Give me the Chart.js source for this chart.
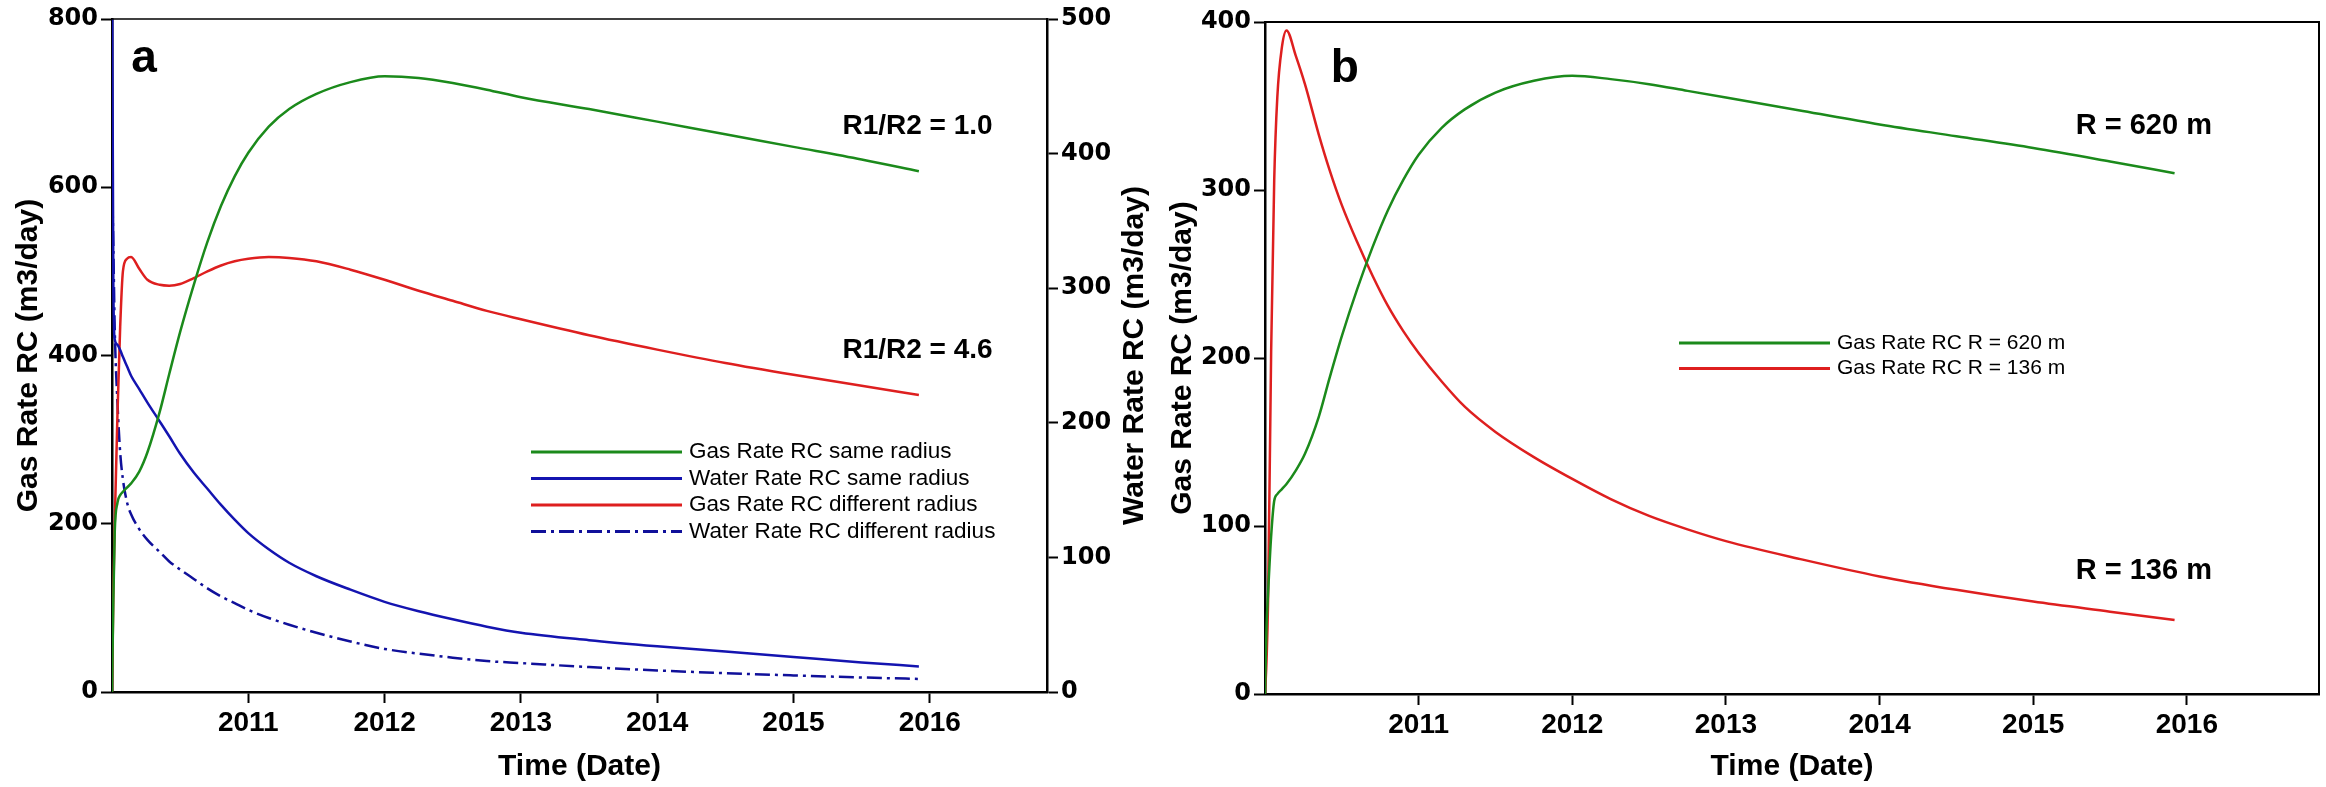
<!DOCTYPE html>
<html>
<head>
<meta charset="utf-8">
<script src="https://cdn.jsdelivr.net/npm/chart.js@4.4.1/dist/chart.umd.min.js"></script>
<style>
  html, body { margin: 0; padding: 0; background: #fff; }
  #wrap { position: relative; width: 2326px; height: 787px; overflow: hidden; background: #fff; }
  .panel { position: absolute; top: 0; height: 787px; }
  #pa { left: 0; width: 1160px; }
  #pb { left: 1160px; width: 1166px; }
</style>
</head>
<body>
<div id="wrap">
  <div class="panel" id="pa"><canvas id="chartA"></canvas></div>
  <div class="panel" id="pb"><canvas id="chartB"></canvas></div>
</div>
<script>
// ---- data (time in decimal years) ----
const yearTicks = [2011, 2012, 2013, 2014, 2015, 2016];

// panel a
const timeA = [2010.0, 2010.01, 2010.02, 2010.04, 2010.06, 2010.08, 2010.11, 2010.14, 2010.2, 2010.26,
  2010.35, 2010.42, 2010.5, 2010.6, 2010.7, 2010.8, 2010.9, 2011.0, 2011.15, 2011.3,
  2011.5, 2011.75, 2012.0, 2012.25, 2012.5, 2012.75, 2013.0, 2013.5, 2014.0, 2014.5,
  2015.0, 2015.5, 2015.92];
const gasSameA = [0, 110, 190, 225, 234, 238, 243, 248, 262, 285,
  333, 378, 428, 484, 535, 578, 613, 641, 672, 693,
  711, 725, 732, 730, 724, 716, 707, 693, 678, 663,
  648, 633, 619];
const waterSameA = [560, 300, 262, 258, 254, 249, 242, 235, 225, 215,
  201, 190, 177, 163, 151, 139, 128, 118, 106, 96,
  86, 76, 67, 60, 54, 48.5, 44, 38.5, 34, 30,
  26, 22, 19];
const gasDiffA = [0, 120, 200, 330, 434, 500, 515, 517, 503, 490,
  484, 483, 485, 492, 500, 507, 512, 515, 517, 516,
  512, 502, 490, 477, 465, 453, 443, 424, 407, 391,
  377, 364, 353];
const waterDiffA = [384, 330, 270, 215, 178, 158, 141, 132, 121, 113,
  104, 97, 91, 84, 77, 71, 66, 61, 55, 50,
  44, 37.5, 32, 28.5, 25.5, 23, 21.5, 18.5, 16, 14,
  12.3, 10.8, 9.7];

// panel b
const timeB = timeA;
const gasR620 = [0, 40, 60, 94, 115, 119, 122, 125, 133, 143,
  165, 188, 213, 241, 266, 288, 306, 321, 337, 348,
  358, 365, 368, 366, 363, 359, 355, 347, 339, 332,
  325, 317, 310];
const gasR136 = [0, 20, 55, 204, 306, 355, 385, 395, 380, 363,
  333, 312, 291, 269, 249, 231, 216, 203, 186, 171,
  156, 141, 128, 116, 106, 98, 91, 80, 70, 62,
  55, 49, 44];

const GREEN = "#1b8a1b";
const BLUE = "#1414b0";
const NAVY = "#10109a";
const RED = "#de1f1f";

const tickFontY = { family: "'DejaVu Sans'", size: 24, weight: "bold" };
const tickFontX = { family: "'Liberation Sans', Arial", size: 28, weight: "bold" };
const titleFont = { family: "'Liberation Sans', Arial", size: 30, weight: "bold" };

function pts(xs, ys) {
  return xs.map((x, i) => ({ x, y: ys[i] }));
}

function line(label, xs, ys, color, axis, dash) {
  return {
    label,
    data: pts(xs, ys),
    borderColor: color,
    backgroundColor: color,
    borderWidth: 2.5,
    borderDash: dash || [],
    pointRadius: 0,
    cubicInterpolationMode: "monotone",
    fill: false,
    yAxisID: axis,
  };
}

// legend drawn inside the plot, from the datasets
const lineKey = {
  id: "lineKey",
  afterDatasetsDraw(chart, args, o) {
    const ctx = chart.ctx;
    ctx.save();
    ctx.font = o.font;
    ctx.textBaseline = "middle";
    ctx.textAlign = "left";
    chart.data.datasets.forEach((ds, i) => {
      const y = o.top + i * o.rowGap;
      ctx.strokeStyle = ds.borderColor;
      ctx.lineWidth = 3;
      ctx.setLineDash(ds.borderDash || []);
      ctx.beginPath();
      ctx.moveTo(o.left, y);
      ctx.lineTo(o.left + o.lineLen, y);
      ctx.stroke();
      ctx.setLineDash([]);
      ctx.fillStyle = "#000";
      ctx.fillText(ds.label, o.left + o.lineLen + o.gap, y);
    });
    ctx.restore();
  },
};

// frame lines, text notes, rotated right title
const notes = {
  id: "notes",
  afterDraw(chart, args, o) {
    const { ctx, chartArea: a, scales } = chart;
    ctx.save();
    ctx.strokeStyle = "#000";
    ctx.lineWidth = o.frameWidth;
    ctx.beginPath();
    ctx.moveTo(a.left, a.top);
    ctx.lineTo(a.right, a.top);
    if (o.rightEdge) ctx.lineTo(a.right, a.bottom);
    ctx.stroke();

    ctx.fillStyle = "#000";
    ctx.textAlign = "center";
    ctx.textBaseline = "middle";
    (o.items || []).forEach((it) => {
      ctx.font = it.font;
      ctx.fillText(it.text, scales.x.getPixelForValue(it.x), scales.y.getPixelForValue(it.y));
    });

    if (o.sideTitle) {
      ctx.font = o.sideTitle.font;
      ctx.translate(o.sideTitle.x, (a.top + a.bottom) / 2);
      ctx.rotate(-Math.PI / 2);
      ctx.fillText(o.sideTitle.text, 0, 0);
    }
    ctx.restore();
  },
};

function xScale(h) {
  return {
    type: "linear",
    min: 2010,
    max: 2016.86,
    afterBuildTicks: (s) => { s.ticks = yearTicks.map((v) => ({ value: v })); },
    afterFit: (s) => { s.height = h; },
    ticks: { font: tickFontX, color: "#000", padding: 3, maxRotation: 0, callback: (v) => String(v) },
    grid: { drawOnChartArea: false, drawTicks: true, tickLength: 11, tickWidth: 2, tickColor: "#000" },
    border: { display: true, color: "#000", width: 2.5 },
    title: { display: true, text: "Time (Date)", font: titleFont, color: "#000", padding: { top: 0, bottom: 2 } },
  };
}

function yScale(pos, max, step, w, title, titlePad) {
  return {
    type: "linear",
    position: pos,
    min: 0,
    max,
    afterFit: (s) => { s.width = w; },
    ticks: { stepSize: step, font: tickFontY, color: "#000", padding: 3, callback: (v) => String(v) },
    grid: { drawOnChartArea: false, drawTicks: true, tickLength: 11, tickWidth: 2, tickColor: "#000" },
    border: { display: true, color: "#000", width: 2.5 },
    title: { display: !!title, text: title || "", font: titleFont, color: "#000", padding: { top: titlePad, bottom: 0 } },
  };
}

Chart.defaults.color = "#000";

new Chart(document.getElementById("chartA"), {
  type: "line",
  data: {
    datasets: [
      line("Gas Rate RC same radius", timeA, gasSameA, GREEN, "y"),
      line("Water Rate RC same radius", timeA, waterSameA, BLUE, "y1"),
      line("Gas Rate RC different radius", timeA, gasDiffA, RED, "y"),
      line("Water Rate RC different radius", timeA, waterDiffA, NAVY, "y1", [15, 5, 3, 5]),
    ],
  },
  options: {
    responsive: true,
    maintainAspectRatio: false,
    animation: false,
    devicePixelRatio: 1,
    layout: { padding: { top: 19, left: 0, right: 0, bottom: 0 } },
    scales: {
      x: xScale(95),
      y: yScale("left", 800, 200, 112, "Gas Rate RC (m3/day)", 11),
      y1: yScale("right", 500, 100, 113, null, 0),
    },
    plugins: {
      legend: { display: false },
      tooltip: { enabled: false },
      lineKey: { font: "22.5px 'Liberation Sans', Arial", left: 531, lineLen: 151, gap: 7, top: 452, rowGap: 26.5 },
      notes: {
        frameWidth: 1.5,
        rightEdge: false,
        items: [
          { text: "a", x: 2010.235, y: 752, font: "bold 46px 'Liberation Sans', Arial" },
          { text: "R1/R2 = 1.0", x: 2015.91, y: 673, font: "bold 28px 'Liberation Sans', Arial" },
          { text: "R1/R2 = 4.6", x: 2015.91, y: 406, font: "bold 28px 'Liberation Sans', Arial" },
        ],
        sideTitle: { text: "Water Rate RC (m3/day)", x: 1135, font: "bold 30px 'Liberation Sans', Arial" },
      },
    },
  },
  plugins: [lineKey, notes],
});

new Chart(document.getElementById("chartB"), {
  type: "line",
  data: {
    datasets: [
      line("Gas Rate RC R = 620 m", timeB, gasR620, GREEN, "y"),
      line("Gas Rate RC R = 136 m", timeB, gasR136, RED, "y"),
    ],
  },
  options: {
    responsive: true,
    maintainAspectRatio: false,
    animation: false,
    devicePixelRatio: 1,
    layout: { padding: { top: 22, left: 0, right: 7, bottom: 0 } },
    scales: {
      x: xScale(93),
      y: yScale("left", 400, 100, 105, "Gas Rate RC (m3/day)", 5),
    },
    plugins: {
      legend: { display: false },
      tooltip: { enabled: false },
      lineKey: { font: "21px 'Liberation Sans', Arial", left: 519, lineLen: 151, gap: 7, top: 343, rowGap: 25.5 },
      notes: {
        frameWidth: 2,
        rightEdge: true,
        items: [
          { text: "b", x: 2010.52, y: 372, font: "bold 46px 'Liberation Sans', Arial" },
          { text: "R = 620 m", x: 2015.72, y: 338, font: "bold 29px 'Liberation Sans', Arial" },
          { text: "R = 136 m", x: 2015.72, y: 73, font: "bold 29px 'Liberation Sans', Arial" },
        ],
      },
    },
  },
  plugins: [lineKey, notes],
});
</script>
</body>
</html>
